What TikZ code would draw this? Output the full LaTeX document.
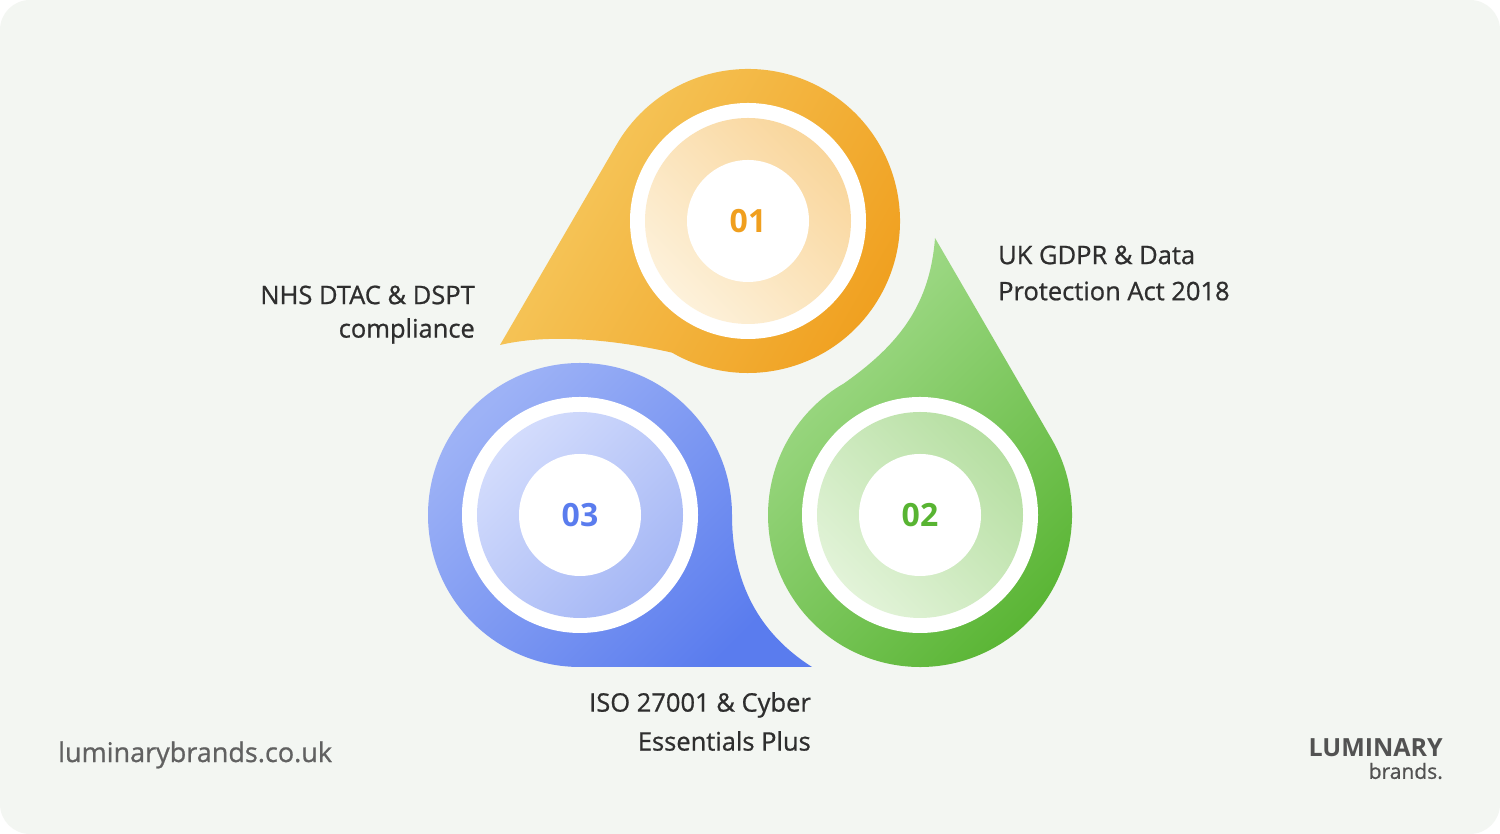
\documentclass[tikz,border=0pt]{standalone}
\usepackage{fontspec}
\setmainfont{Open Sans}
\newfontfamily\medf{Open Sans}[FakeBold=0.8]
\begin{document}
\begin{tikzpicture}[x=1pt,y=1pt,
  lab/.style={font=\medf\fontsize{25.5}{30}\selectfont, text=txt, inner sep=0pt},
  num/.style={font=\fontsize{32}{36}\selectfont\bfseries, inner sep=0pt}]
\definecolor{bg}{HTML}{F3F6F2}
\definecolor{txt}{HTML}{2E2E2E}
\definecolor{oA}{HTML}{F6CB62}\definecolor{oB}{HTML}{F09F1E}
\definecolor{oC}{HTML}{FDF1DA}\definecolor{oD}{HTML}{F9D69C}
\definecolor{gA}{HTML}{A6DD8F}\definecolor{gB}{HTML}{58B432}
\definecolor{gC}{HTML}{E2F3D8}\definecolor{gD}{HTML}{B6DFA2}
\definecolor{bA}{HTML}{9DB2F6}\definecolor{bB}{HTML}{5A7CEE}
\definecolor{bC}{HTML}{D3DCFC}\definecolor{bD}{HTML}{A5B7F5}
\useasboundingbox (0,0) rectangle (1500,834);
\fill[white] (0,0) rectangle (1500,834);
\fill[bg,rounded corners=30pt] (0,0) rectangle (1500,834);
% orange
\path[left color=oA,right color=oB,shading angle=60]
  (748,613) ++(149.9:152) arc[start angle=149.9,end angle=-120,radius=152]
  .. controls (625,492) and (555,502) .. (500,489) -- cycle;
% green
\path[left color=gA,right color=gB,shading angle=45]
  (920,319) ++(30.1:152) arc[start angle=30.1,end angle=-240,radius=152]
  .. controls (900,490) and (930,530) .. (935,596) -- cycle;
% blue
\path[left color=bA,right color=bB,shading angle=45]
  (580,319) ++(270:152) arc[start angle=270,end angle=0,radius=152]
  .. controls (732,250) and (760,200) .. (812,167) -- cycle;
% rings
\foreach \c/\a/\b/\ang in {{(748,613)}/oC/oD/135,{(920,319)}/gC/gD/135,{(580,319)}/bC/bD/45}{
  \fill[white] \c circle[radius=118];
  \shade[left color=\a,right color=\b,shading angle=\ang] \c circle[radius=103];
  \fill[white] \c circle[radius=61];
}
\node[num,text=oB] (n1) at (748,613) {01};
\node[num,text=gB] (n2) at (920,319) {02};
\node[num,text=bB] (n3) at (580,319) {03};
\node[lab,anchor=east] (l1a) at (475,539) {NHS DTAC \& DSPT};
\node[lab,anchor=east] (l1b) at (475,503) {compliance};
\node[lab,anchor=west] (l2a) at (998,579) {UK GDPR \& Data};
\node[lab,anchor=west] (l2b) at (998,543) {Protection Act 2018};
\node[lab,anchor=east] (l3a) at (811,129) {ISO 27001 \& Cyber};
\node[lab,anchor=east] (l3b) at (811,93) {Essentials Plus};
\node[font=\medf\fontsize{27}{32}\selectfont,text=black!62,anchor=west,inner sep=0pt] (url) at (58,79) {luminarybrands.co.uk};
\node[font=\fontsize{25}{28}\selectfont\bfseries,text=black!68,anchor=east,inner sep=0pt] (logo1) at (1443,86) {LUMINARY};
\node[font=\medf\fontsize{21}{24}\selectfont,text=black!68,anchor=east,inner sep=0pt] (logo2) at (1443,63) {brands.};
\end{tikzpicture}
\end{document}
